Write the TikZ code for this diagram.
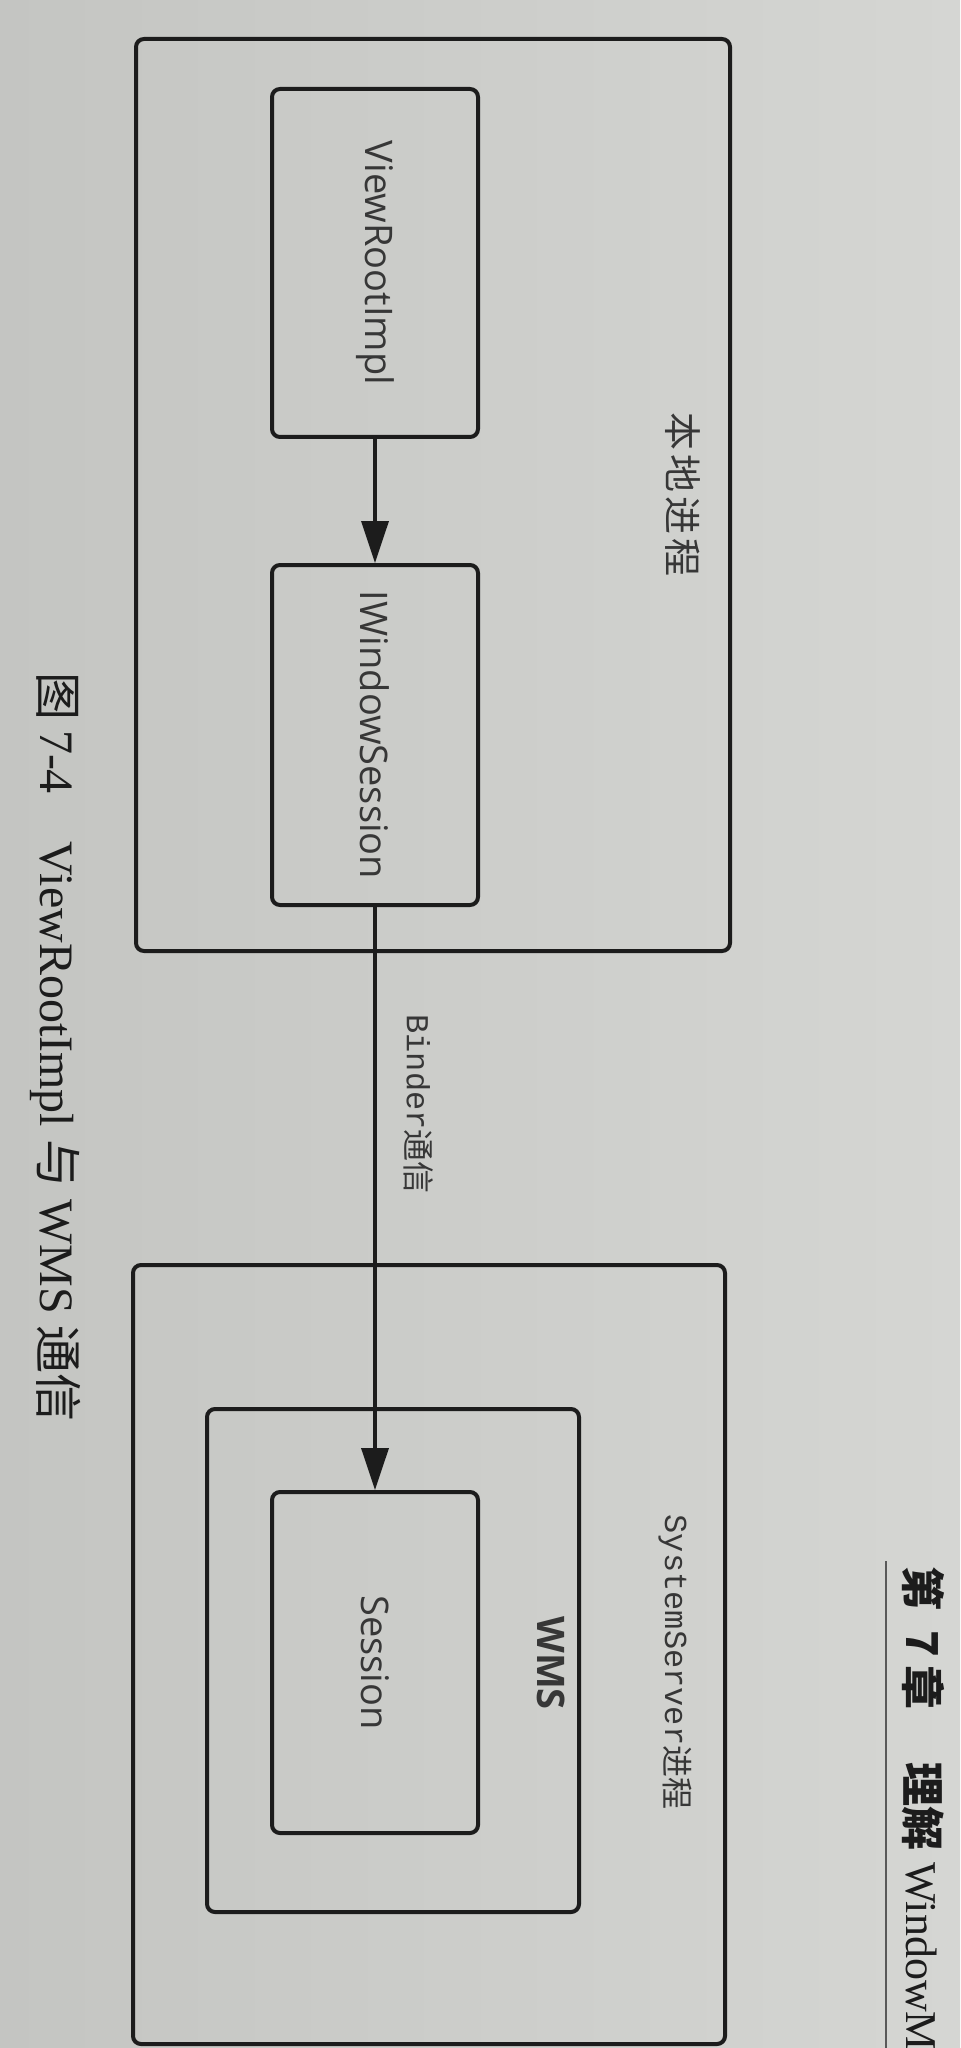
\documentclass[tikz,border=0pt]{standalone}
\usepackage{fontspec}
\setmainfont{Open Sans}
\newfontfamily\cjk{Noto Sans CJK SC}
\newfontfamily\mono{Liberation Mono}
\newfontfamily\serif{Liberation Serif}
\usetikzlibrary{arrows.meta}
\definecolor{paperL}{RGB}{196,197,194}
\definecolor{paperR}{RGB}{213,214,211}
\definecolor{ink}{RGB}{28,28,28}
\definecolor{txt}{RGB}{55,55,55}

\begin{document}
\begin{tikzpicture}[x=0.5pt,y=-0.5pt,
  frame/.style={draw=ink, line width=2pt, rounded corners=4pt, inner sep=0pt},
  lbl/.style={rotate=-90, text=txt, inner sep=0pt, font=\fontsize{19pt}{22pt}\selectfont},
  small/.style={rotate=-90, text=txt, inner sep=0pt, font=\fontsize{16pt}{18pt}\selectfont},
  link/.style={draw=ink, line width=1.8pt, -{Triangle[length=21pt,width=13.5pt]}},
]
\useasboundingbox (0,0) rectangle (960,2048);
\shade[left color=paperL, right color=paperR] (0,0) rectangle (960,2048);
\clip (0,0) rectangle (960,2048);

% local process
\node[frame, minimum width=297pt, minimum height=456pt] (local) at (433,495) {};
\node[frame, minimum width=103pt, minimum height=174pt] (vri) at (375,263) {};
\node[frame, minimum width=103pt, minimum height=170pt] (iws) at (375,735) {};
\node[lbl] (vrit) at (vri) {ViewRootImpl};
\node[lbl] (iwst) at (iws) {IWindowSession};
\node[lbl, font=\cjk\fontsize{19pt}{22pt}\selectfont] (localt) at (683,495)
  {本\kern2pt 地\kern2pt 进\kern2pt 程};

% system server process
\node[frame, minimum width=296pt, minimum height=389.5pt] (ss) at (429,1654.5) {};
\node[frame, minimum width=186pt, minimum height=251.5pt] (wms) at (393,1660.5) {};
\node[frame, minimum width=103pt, minimum height=170.5pt] (sess) at (375,1662.5) {};
\node[lbl] (sesst) at (sess) {Session};
\node[lbl, font=\bfseries\fontsize{19pt}{22pt}\selectfont] (wmst) at (551,1663) {WMS};
\node[small] (sst) at (675,1662) {{\mono SystemServer}{\cjk 进程}};

% calls
\draw[link] (vri) -- (iws);
\draw[link] (iws) -- (sess);
\node[small] (bindert) at (419,1104) {{\mono Binder}{\cjk 通信}};

% caption
\node[rotate=-90, anchor=west, inner sep=0pt, text=ink,
  font=\serif\fontsize{24pt}{27pt}\selectfont] (cap) at (56,672)
  {{\cjk 图}\hspace{0.2em}7-4\hspace{1em}ViewRootImpl {\cjk 与} WMS {\cjk 通信}};

% running head
\coordinate (ruleTop) at (886,1561);
\coordinate (ruleEnd) at (886,2048);
\draw[line width=0.8pt, draw=black!65] (ruleTop) -- (ruleEnd);
\node[rotate=-90, anchor=west, inner sep=0pt, text=ink,
  font=\fontsize{22pt}{24pt}\selectfont] (head) at (923,1566)
  {{\cjk\bfseries 第\hspace{0.45em}7\hspace{0.2em}章\hspace{1.2em}理解} {\serif WindowM}};
\end{tikzpicture}
\end{document}
